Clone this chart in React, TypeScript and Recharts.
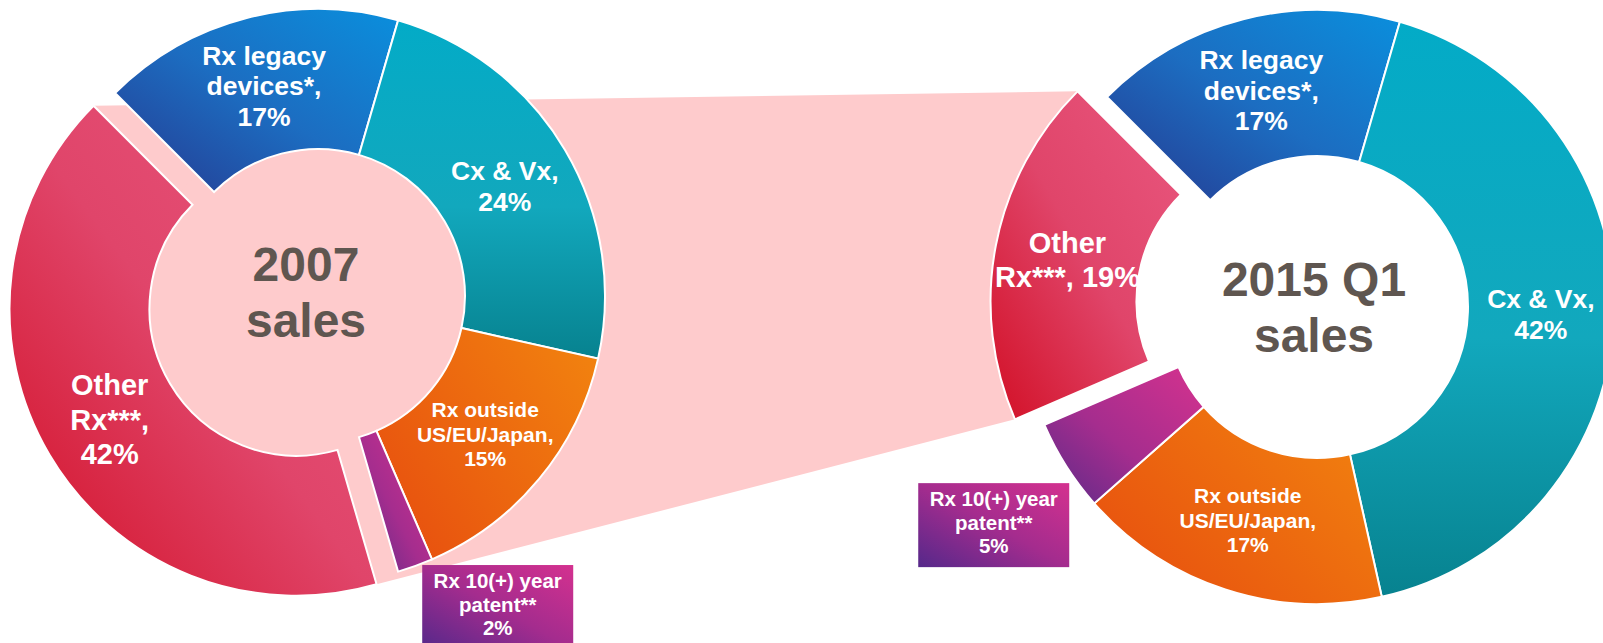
import React from 'react';
import { PieChart, Pie, Cell } from 'recharts';

// slice order is clockwise, starting at the 10:30 position
const categories = [
  'Rx legacy devices*',
  'Cx & Vx',
  'Rx outside US/EU/Japan',
  'Rx 10(+) year patent**',
  'Other Rx***',
];
const values2007 = [17, 24, 15, 2, 42];
const values2015 = [17, 42, 17, 5, 19];

// {v} is replaced by the slice value
const labels2007 = [
  ['Rx legacy', 'devices*,', '{v}%'],
  ['Cx & Vx,', '{v}%'],
  ['Rx outside', 'US/EU/Japan,', '{v}%'],
  ['Rx 10(+) year', 'patent**', '{v}%'],
  ['Other', 'Rx***,', '{v}%'],
];
const labels2015 = [
  ['Rx legacy', 'devices*,', '{v}%'],
  ['Cx & Vx,', '{v}%'],
  ['Rx outside', 'US/EU/Japan,', '{v}%'],
  ['Rx 10(+) year', 'patent**', '{v}%'],
  ['Other', 'Rx***, {v}%'],
];
const title2007 = ['2007', 'sales'];
const title2015 = ['2015 Q1', 'sales'];

const W = 1603;
const H = 643;
const RAD = Math.PI / 180;
const START_ANGLE = 135;
const END_ANGLE = -225;
const EXPLODED = 4; // Other Rx is pulled out of the ring
const CALLOUT = 3; // Rx 10(+) gets a boxed label outside the ring
const PINK = '#FECBCC';
const FONT = 'Arial, "Liberation Sans", sans-serif';
const GRADIENT_IDS = ['g-legacy', 'g-cx', 'g-out', 'g-patent', 'g-other'];
const LABEL_SIZE = [26.5, 26.5, 21, 20.5, 29];
const LABEL_LH = [30.5, 31, 24.5, 23.5, 34.5];

const left = {
  key: 'y2007',
  values: values2007,
  labels: labels2007,
  title: title2007,
  cx: 318,
  cy: 296,
  inner: 147,
  outer: 287,
  explode: 25,
  holeFill: PINK,
  titleShift: [-12, -4],
  calloutShift: [7, -1],
};
const right = {
  key: 'y2015',
  values: values2015,
  labels: labels2015,
  title: title2015,
  cx: 1317,
  cy: 307,
  inner: 151,
  outer: 297,
  explode: 30,
  holeFill: 'none',
  titleShift: [-3, 0],
  calloutShift: [-148, 17],
};

type Donut = typeof left;

const polar = (cx: number, cy: number, r: number, angle: number) => ({
  x: cx + r * Math.cos(-angle * RAD),
  y: cy + r * Math.sin(-angle * RAD),
});

// angle of a slice (0 = start edge, 0.5 = middle, 1 = end edge)
const sliceAngle = (values: number[], index: number, part: number) => {
  const total = values.reduce((s, v) => s + v, 0);
  const before = values.slice(0, index).reduce((s, v) => s + v, 0);
  return START_ANGLE + ((END_ANGLE - START_ANGLE) * (before + values[index] * part)) / total;
};

const explodeOffset = (d: Donut) => polar(0, 0, d.explode, sliceAngle(d.values, EXPLODED, 0.5));

const fillText = (line: string, v: number) => line.replace('{v}', String(v));

const makeSliceLabel = (d: Donut, exploded: boolean) => (props: any) => {
  const { index, midAngle } = props;
  if ((index === EXPLODED) !== exploded) return null;
  const off = exploded ? explodeOffset(d) : { x: 0, y: 0 };
  const cx = d.cx + off.x;
  const cy = d.cy + off.y;
  const lines = d.labels[index].map(l => fillText(l, d.values[index]));
  const size = LABEL_SIZE[index];
  const lh = LABEL_LH[index];

  if (index === CALLOUT) {
    const tip = polar(cx, cy, d.outer, midAngle);
    const bx = tip.x + d.calloutShift[0];
    const by = tip.y + d.calloutShift[1];
    return (
      <g>
        <rect x={bx} y={by} width={151} height={84} fill="url(#g-box)" />
        <text x={bx + 75.5} y={by + 23} textAnchor="middle" fill="#fff" fontFamily={FONT} fontWeight="bold" fontSize={size}>
          {lines.map((l, i) => (
            <tspan key={i} x={bx + 75.5} dy={i === 0 ? 0 : lh}>
              {l}
            </tspan>
          ))}
        </text>
      </g>
    );
  }

  const p = polar(cx, cy, (d.inner + d.outer) / 2, midAngle);
  const y0 = p.y - ((lines.length - 1) * lh) / 2 + size * 0.36;
  return (
    <text x={p.x} y={y0} textAnchor="middle" fill="#fff" fontFamily={FONT} fontWeight="bold" fontSize={size}>
      {lines.map((l, i) => (
        <tspan key={i} x={p.x} dy={i === 0 ? 0 : lh}>
          {l}
        </tspan>
      ))}
    </text>
  );
};

const makeTitleLabel = (d: Donut) => () => {
  const x = d.cx + d.titleShift[0];
  const y = d.cy + d.titleShift[1];
  return (
    <text x={x} y={y - 11} textAnchor="middle" fill="#5F5650" fontFamily={FONT} fontWeight="bold" fontSize={48}>
      <tspan x={x} dy={0}>
        {d.title[0]}
      </tspan>
      <tspan x={x} dy={56}>
        {d.title[1]}
      </tspan>
    </text>
  );
};

const renderDonut = (d: Donut) => {
  const rows = categories.map((name, i) => ({ name, value: d.values[i] }));
  const off = explodeOffset(d);
  return [
    <Pie
      key={d.key + '-hole'}
      data={[{ name: 'hole', value: 1 }]}
      dataKey="value"
      cx={d.cx}
      cy={d.cy}
      innerRadius={0}
      outerRadius={d.inner + d.explode}
      stroke="none"
      isAnimationActive={false}
      label={makeTitleLabel(d)}
      labelLine={false}
    >
      <Cell fill={d.holeFill} stroke="none" />
    </Pie>,
    <Pie
      key={d.key + '-ring'}
      data={rows}
      dataKey="value"
      nameKey="name"
      cx={d.cx}
      cy={d.cy}
      innerRadius={d.inner}
      outerRadius={d.outer}
      startAngle={START_ANGLE}
      endAngle={END_ANGLE}
      isAnimationActive={false}
      label={makeSliceLabel(d, false)}
      labelLine={false}
    >
      {rows.map((r, i) => (
        <Cell
          key={r.name}
          fill={i === EXPLODED ? 'none' : `url(#${GRADIENT_IDS[i]})`}
          stroke={i === EXPLODED ? 'none' : '#fff'}
          strokeWidth={2}
        />
      ))}
    </Pie>,
    <Pie
      key={d.key + '-out'}
      data={rows}
      dataKey="value"
      nameKey="name"
      cx={d.cx + off.x}
      cy={d.cy + off.y}
      innerRadius={d.inner}
      outerRadius={d.outer}
      startAngle={START_ANGLE}
      endAngle={END_ANGLE}
      isAnimationActive={false}
      label={makeSliceLabel(d, true)}
      labelLine={false}
    >
      {rows.map((r, i) => (
        <Cell
          key={r.name}
          fill={i === EXPLODED ? `url(#${GRADIENT_IDS[i]})` : 'none'}
          stroke={i === EXPLODED ? '#fff' : 'none'}
          strokeWidth={2}
        />
      ))}
    </Pie>,
  ];
};

// the pink band joins the pulled-out "Other Rx" slices of both years
const bandPoints = () => {
  const corner = (d: Donut, part: number) => {
    const off = explodeOffset(d);
    return polar(d.cx + off.x, d.cy + off.y, d.outer, sliceAngle(d.values, EXPLODED, part));
  };
  const pts = [corner(left, 1), corner(right, 1), corner(right, 0), corner(left, 0)];
  return pts.map(p => `${p.x},${p.y}`).join(' ');
};

const App: React.FC = () => {
  return (
    <div style={{ position: 'absolute', left: 0, top: 0, width: W, height: H, background: '#fff', overflow: 'hidden' }}>
      <svg width={W} height={H} style={{ position: 'absolute', left: 0, top: 0 }}>
        <defs>
          <linearGradient id="g-legacy" x1="1" y1="0" x2="0" y2="1">
            <stop offset="0" stopColor="#0A8FDD" />
            <stop offset="0.5" stopColor="#1C6DC1" />
            <stop offset="1" stopColor="#26388F" />
          </linearGradient>
          <linearGradient id="g-cx" x1="0" y1="0" x2="0" y2="1">
            <stop offset="0" stopColor="#03ABC7" />
            <stop offset="0.55" stopColor="#12A8BD" />
            <stop offset="1" stopColor="#07828F" />
          </linearGradient>
          <linearGradient id="g-out" x1="1" y1="0" x2="0" y2="0.7">
            <stop offset="0" stopColor="#F2850F" />
            <stop offset="1" stopColor="#E8520F" />
          </linearGradient>
          <linearGradient id="g-patent" x1="1" y1="0" x2="0" y2="1">
            <stop offset="0" stopColor="#D5328E" />
            <stop offset="0.55" stopColor="#A52D8E" />
            <stop offset="1" stopColor="#5A2A88" />
          </linearGradient>
          <linearGradient id="g-other" x1="1" y1="0" x2="0" y2="1">
            <stop offset="0" stopColor="#E9577F" />
            <stop offset="0.5" stopColor="#E0456A" />
            <stop offset="1" stopColor="#D20F25" />
          </linearGradient>
          <linearGradient id="g-box" x1="0" y1="1" x2="1" y2="0">
            <stop offset="0" stopColor="#55288A" />
            <stop offset="0.5" stopColor="#A42C8E" />
            <stop offset="1" stopColor="#D4318F" />
          </linearGradient>
        </defs>
        <polygon points={bandPoints()} fill={PINK} />
      </svg>
      <div style={{ position: 'absolute', left: 0, top: 0 }}>
        <PieChart width={W} height={H} margin={{ top: 0, right: 0, bottom: 0, left: 0 }}>
          {renderDonut(left)}
          {renderDonut(right)}
        </PieChart>
      </div>
    </div>
  );
};

export default App;
